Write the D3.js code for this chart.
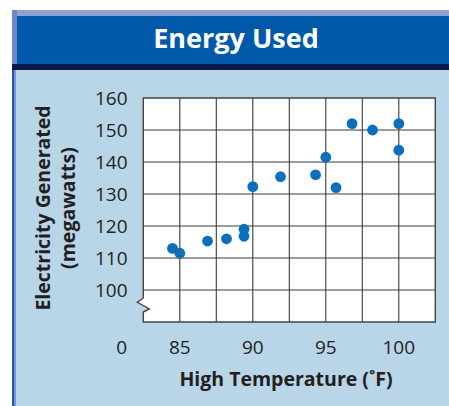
<!DOCTYPE html>
<html>
<head>
<meta charset="utf-8">
<script src="https://cdn.jsdelivr.net/npm/d3@7"></script>
<style>
  body { margin: 0; background: #ffffff; }
  svg { display: block; }
</style>
</head>
<body>
<div id="chart-div"></div>
<script>
// readings
const tempF = [84.5, 85, 86.9, 88.2, 89.4, 89.4, 90, 91.9, 94.3, 95, 95.7, 96.8, 98.2, 100, 100];
const megawatts = [113, 111.5, 115.3, 116, 119, 116.8, 132.3, 135.4, 136, 141.5, 132, 152, 150, 152, 143.7];
const xTickLabels = [85, 90, 95, 100];
const yTickLabels = [100, 110, 120, 130, 140, 150, 160];
const xGridValues = [85, 87.5, 90, 92.5, 95, 97.5, 100];
const yGridValues = [100, 110, 120, 130, 140, 150];

class EnergyScatter {
    constructor() {
        this.svgWidth = 449;
        this.svgHeight = 406;
        this.plotLeft = 143.3;
        this.plotRight = 435.3;
        this.plotTop = 98;
        this.plotBottom = 322;
        this.dotRadius = 5.4;
        this.dotColor = "#0a6fbd";
        this.gridColor = "#3a3a3a";
        this.font = "'Open Sans', 'Noto Sans', sans-serif";
    }

    draw() {
        let svg = d3.select("#chart-div")
            .append("svg")
            .attr("width", this.svgWidth)
            .attr("height", this.svgHeight);

//
//  Frame: bevel, title bar, light blue panel
//
        svg.append("rect").attr("x", 12).attr("y", 70).attr("width", 450).attr("height", 340)
            .style("fill", "#b9d5e8");
        svg.append("rect").attr("x", 12).attr("y", 10).attr("width", 450).attr("height", 6)
            .style("fill", "#8fa3d3");
        svg.append("rect").attr("x", 12).attr("y", 10).attr("width", 5).attr("height", 56)
            .style("fill", "#6f86c6");
        svg.append("rect").attr("x", 17).attr("y", 16).attr("width", 445).attr("height", 48)
            .style("fill", "#005aa9");
        svg.append("rect").attr("x", 12).attr("y", 64).attr("width", 450).attr("height", 6)
            .style("fill", "#0a1a48");
        svg.append("rect").attr("x", 12).attr("y", 70).attr("width", 2.5).attr("height", 340)
            .style("fill", "#2d52ad");
        svg.append("rect").attr("x", 14.5).attr("y", 70).attr("width", 1.5).attr("height", 340)
            .style("fill", "#7598d4");

        svg.append("text")
            .attr("x", 236)
            .attr("y", 48)
            .attr("text-anchor", "middle")
            .style("font-family", this.font)
            .style("font-weight", 700)
            .style("font-size", "27px")
            .style("fill", "#ffffff")
            .text("Energy Used");

        var x = d3.scaleLinear()
            .domain([82.5, 102.5])
            .range([this.plotLeft, this.plotRight]);

        var y = d3.scaleLinear()
            .domain([90, 160])
            .range([this.plotBottom, this.plotTop]);

//
//  White plot area with the axis break cut into its left edge
//
        let L = this.plotLeft, B = this.plotBottom;
        let breakPath = [
            [L, this.plotTop], [this.plotRight, this.plotTop], [this.plotRight, B], [L, B],
            [L, 312], [149.3, 309], [137.3, 302.3], [L, 298]
        ];
        svg.append("path")
            .attr("d", d3.line()(breakPath) + "Z")
            .style("fill", "#ffffff")
            .style("stroke", "none");

        let grid = svg.append("g").attr("id", "grid");
        grid.selectAll("line.vgrid")
            .data(xGridValues)
            .enter()
            .append("line")
            .attr("class", "vgrid")
            .attr("x1", d => x(d)).attr("x2", d => x(d))
            .attr("y1", this.plotTop).attr("y2", this.plotBottom)
            .style("stroke", this.gridColor)
            .style("stroke-width", 1.1);
        grid.selectAll("line.hgrid")
            .data(yGridValues)
            .enter()
            .append("line")
            .attr("class", "hgrid")
            .attr("x1", this.plotLeft).attr("x2", this.plotRight)
            .attr("y1", d => y(d)).attr("y2", d => y(d))
            .style("stroke", this.gridColor)
            .style("stroke-width", 1.1);

        // outer border: top, right, bottom, left with break zigzag
        let border = [
            [L, 298], [L, this.plotTop], [this.plotRight, this.plotTop],
            [this.plotRight, B], [L, B], [L, 312], [149.3, 309], [137.3, 302.3], [L, 298]
        ];
        svg.append("path")
            .attr("d", d3.line()(border))
            .style("fill", "none")
            .style("stroke", "#444444")
            .style("stroke-width", 1.4)
            .style("stroke-linejoin", "miter");

//
//  Tick labels
//
        svg.append("g")
            .selectAll("text")
            .data(yTickLabels)
            .enter()
            .append("text")
            .attr("x", 127.5)
            .attr("y", d => y(d))
            .attr("dy", "0.36em")
            .attr("text-anchor", "end")
            .style("font-family", this.font)
            .style("font-size", "19px")
            .style("fill", "#231f20")
            .text(d => d);

        svg.append("g")
            .selectAll("text")
            .data(xTickLabels)
            .enter()
            .append("text")
            .attr("x", d => x(d))
            .attr("y", 354)
            .attr("text-anchor", "middle")
            .style("font-family", this.font)
            .style("font-size", "19px")
            .style("fill", "#231f20")
            .text(d => d);

        svg.append("text")
            .attr("x", x(82.5) - 21.5)
            .attr("y", 354)
            .attr("text-anchor", "middle")
            .style("font-family", this.font)
            .style("font-size", "19px")
            .style("fill", "#231f20")
            .text("0");

//
//  Axis titles
//
        svg.append("text")
            .attr("x", 286)
            .attr("y", 386)
            .attr("text-anchor", "middle")
            .style("font-family", this.font)
            .style("font-weight", 700)
            .style("font-size", "19.5px")
            .style("fill", "#231f20")
            .text("High Temperature (˚F)");

        let yTitle = svg.append("g")
            .attr("transform", "translate(0,208) rotate(-90)");
        yTitle.append("text")
            .attr("x", 0)
            .attr("y", 50)
            .attr("text-anchor", "middle")
            .style("font-family", this.font)
            .style("font-weight", 700)
            .style("font-size", "19.5px")
            .style("fill", "#231f20")
            .text("Electricity Generated");
        yTitle.append("text")
            .attr("x", 0)
            .attr("y", 75)
            .attr("text-anchor", "middle")
            .style("font-family", this.font)
            .style("font-weight", 700)
            .style("font-size", "19.5px")
            .style("fill", "#231f20")
            .text("(megawatts)");

//
//  Data points
//
        svg.append("g")
            .attr("id", "dots")
            .selectAll("circle")
            .data(tempF)
            .enter()
            .append("circle")
            .attr("cx", d => x(d))
            .attr("cy", (d, i) => y(megawatts[i]))
            .attr("r", this.dotRadius)
            .style("fill", this.dotColor);
    }
}

let chart = new EnergyScatter();
chart.draw();
</script>
</body>
</html>
